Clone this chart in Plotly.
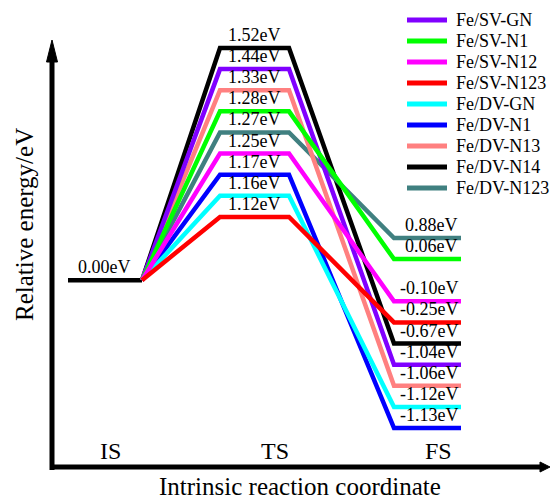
import plotly.graph_objects as go

# Reaction energy profile: IS -> TS -> FS for each Fe-doped graphene model
series_names = ["Fe/SV-GN", "Fe/SV-N1", "Fe/SV-N12", "Fe/SV-N123", "Fe/DV-GN",
                "Fe/DV-N1", "Fe/DV-N13", "Fe/DV-N14", "Fe/DV-N123"]
series_colors = ["#8000FF", "#00FF00", "#FF00FF", "#FF0000", "#00FFFF",
                 "#0000FF", "#FF8080", "#000000", "#408080"]
ts_energy = [1.44, 1.28, 1.25, 1.12, 1.16, 1.17, 1.33, 1.52, 1.27]
fs_energy = [-1.04, 0.06, -0.10, -0.25, -1.12, -1.13, -1.06, -0.67, 0.88]
is_energy = 0.00
stage_labels = ["IS", "TS", "FS"]

W, H = 550, 501
FONT = "Liberation Serif, Times New Roman, serif"


def lab(v):
    return f"{v:.2f}"


def py(p):
    """pixel row -> paper y"""
    return 1 - p / H


# Schematic energy axis: every distinct level gets its own evenly spaced slot
levels = sorted(set([is_energy] + ts_energy + fs_energy))
cats = [lab(v) for v in levels]
n = len(cats)
top_px, bot_px = 48, 428
span = (n - 1) / (py(top_px) - py(bot_px))
r0 = -py(bot_px) * span
y_range = [r0, r0 + span]


def slot(v):
    """category slot of an energy level on the schematic axis"""
    return cats.index(lab(v))


# horizontal extent of each stage (x axis is in pixel-like units)
is_x = (68, 142)
ts_x = (220, 289)
fs_x = (394, 461)

fig = go.Figure()

# initial state level
fig.add_trace(go.Scatter(
    x=list(is_x), y=[lab(is_energy)] * 2, mode="lines",
    line=dict(color="black", width=4.5), showlegend=False, hoverinfo="skip"))

draw_order = [7, 8, 6, 0, 5, 4, 1, 2, 3]
for i in draw_order:
    fig.add_trace(go.Scatter(
        x=[is_x[1], ts_x[0], ts_x[1], fs_x[0], fs_x[1]],
        y=[lab(is_energy), lab(ts_energy[i]), lab(ts_energy[i]),
           lab(fs_energy[i]), lab(fs_energy[i])],
        mode="lines", name=series_names[i],
        line=dict(color=series_colors[i], width=4.5),
        showlegend=False))

annotations = []
label_font = dict(family=FONT, size=18, color="black")


def level_label(xc, v, anchor):
    return dict(x=xc, y=slot(v), xref="x", yref="y", text=f"{lab(v)}eV",
                showarrow=False, xanchor=anchor, yanchor="middle",
                yshift=13, font=label_font)


annotations.append(level_label(104, is_energy, "center"))
for v in ts_energy:
    annotations.append(level_label(sum(ts_x) / 2, v, "center"))
for v in fs_energy:
    annotations.append(level_label(460, v, "right"))

# stage names along the reaction coordinate
for name, xc in zip(stage_labels, [110, 275, 438]):
    annotations.append(dict(x=xc, y=py(451), xref="x", yref="paper", text=name,
                            showarrow=False, xanchor="center", yanchor="middle",
                            font=dict(family=FONT, size=24, color="black")))

# axis titles
annotations.append(dict(x=300, y=py(486), xref="x", yref="paper",
                        text="Intrinsic reaction coordinate", showarrow=False,
                        xanchor="center", yanchor="middle",
                        font=dict(family=FONT, size=25, color="black")))
annotations.append(dict(x=24, y=py(225), xref="x", yref="paper",
                        text="Relative energy/eV", showarrow=False, textangle=-90,
                        xanchor="center", yanchor="middle",
                        font=dict(family=FONT, size=25, color="black")))

shapes = []
# legend entries
for k, (name, col) in enumerate(zip(series_names, series_colors)):
    yk = py(20 + 21 * k)
    shapes.append(dict(type="line", xref="x", yref="paper", x0=407, x1=447,
                       y0=yk, y1=yk, line=dict(color=col, width=5)))
    annotations.append(dict(x=454, y=yk, xref="x", yref="paper", text=name,
                            showarrow=False, xanchor="left", yanchor="middle",
                            font=dict(family=FONT, size=18, color="black")))

# axes drawn as arrows
shapes.append(dict(type="line", xref="x", yref="paper", x0=52, x1=52,
                   y0=py(470), y1=py(60), line=dict(color="black", width=5)))
shapes.append(dict(type="path", xref="x", yref="paper", fillcolor="black",
                   line=dict(color="black", width=1),
                   path=f"M 52,{py(40)} L 46.5,{py(62)} L 57.5,{py(62)} Z"))
shapes.append(dict(type="line", xref="x", yref="paper", x0=50, x1=542,
                   y0=py(467), y1=py(467), line=dict(color="black", width=5)))
shapes.append(dict(type="path", xref="x", yref="paper", fillcolor="black",
                   line=dict(color="black", width=1),
                   path=f"M 550,{py(467)} L 540,{py(462)} L 540,{py(472)} Z"))

fig.update_layout(
    width=W, height=H, margin=dict(l=0, r=0, t=0, b=0),
    paper_bgcolor="white", plot_bgcolor="white",
    xaxis=dict(range=[0, W], visible=False, fixedrange=True),
    yaxis=dict(type="category", categoryorder="array", categoryarray=cats,
               range=y_range, visible=False, fixedrange=True),
    annotations=annotations, shapes=shapes, showlegend=False,
)

fig.write_html("out.html")
